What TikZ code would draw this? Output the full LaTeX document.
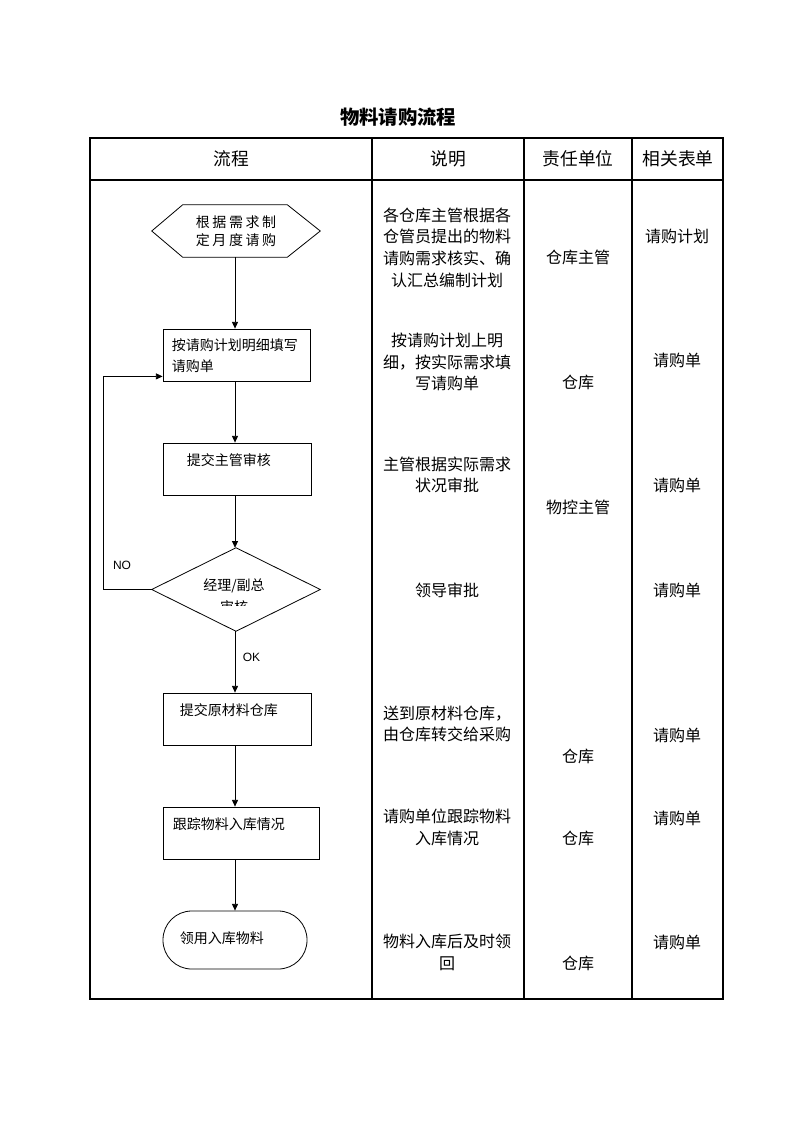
\documentclass[tikz,border=0pt]{standalone}
\usepackage{fontspec}
\setmainfont{Noto Sans CJK SC}
\newfontfamily\hexfont[LetterSpace=18]{Noto Sans CJK SC}
\newfontfamily\latinfont{Liberation Sans}
\usetikzlibrary{calc,arrows.meta}
\begin{document}
\begin{tikzpicture}[x=0.75pt,y=-0.75pt,
  tbl/.style={line width=0.9pt},
  flowline/.style={line width=0.6pt},
  arr/.style={line width=0.6pt,-{Triangle[width=4.5pt,length=5pt]}},
  boxnode/.style={draw,line width=0.6pt,minimum height=39pt,inner sep=0pt},
  hidden/.style={inner sep=0pt},
  flowtext/.style={inner sep=0pt,anchor=west,align=left,font=\fontsize{10.5}{15.75}\selectfont},
  celltext/.style={inner sep=0pt,align=center,font=\fontsize{12}{16.2}\selectfont},
  headtext/.style={inner sep=0pt,font=\fontsize{13.3}{16}\selectfont},
  latinlabel/.style={inner sep=0pt,font=\latinfont\fontsize{9}{11}\selectfont}
]
\useasboundingbox (0,0) rectangle (794,1123);

% title
\node[inner sep=0pt,font=\bfseries\fontsize{14.5}{18}\selectfont] (title) at (398,117) {物料请购流程};

% table frame
\draw[tbl] (90,138) rectangle (723,999);
\draw[tbl] (90,180) -- (723,180);
\foreach \x in {372,524,632} \draw[tbl] (\x,138) -- (\x,999);

% header
\node[headtext] (h1) at (231,159) {流程};
\node[headtext] (h2) at (448,159) {说明};
\node[headtext] (h3) at (578,159) {责任单位};
\node[headtext] (h4) at (678,159) {相关表单};

% flow chart
\coordinate (spine) at (235,0);
\coordinate (loopx) at (103,0);

\node[hidden,minimum width=126pt,minimum height=39pt,align=center,
      font={\hexfont\fontsize{10.5}{13.5}\selectfont}] (hex) at (236,231) {根据需求制\\定月度请购};
\draw[flowline] (hex.west) -- ($(hex.north west)+(31,0)$) -- ($(hex.north east)+(-33,0)$)
  -- (hex.east) -- ($(hex.south east)+(-33,0)$) -- ($(hex.south west)+(31,0)$) -- cycle;

\node[boxnode,minimum width=110.25pt] (b1) at (236.5,355) {};
\node[flowtext] (b1t) at ($(b1.west)+(9,0.5)$) {按请购计划明细填写\\请购单};

\node[boxnode,minimum width=111pt] (b2) at (237,469) {};
\node[flowtext] (b2t) at ($(b2.west)+(24,-9)$) {提交主管审核};

\node[hidden,minimum width=126pt,minimum height=62.25pt] (dec) at (236,589.5) {};
\draw[flowline] (dec.west) -- (dec.north) -- (dec.east) -- (dec.south) -- cycle;
\begin{scope}
  \clip (150,540) rectangle (322,605);
  \node[inner sep=0pt,align=center,font=\fontsize{10.5}{16.5}\selectfont] (dect) at (234,596) {经理/副总\\审核};
\end{scope}

\node[boxnode,minimum width=111pt] (b3) at (237,719) {};
\node[flowtext] (b3t) at ($(b3.west)+(17,-9)$) {提交原材料仓库};

\node[boxnode,minimum width=117pt] (b4) at (241,833) {};
\node[flowtext] (b4t) at ($(b4.west)+(10,-9)$) {跟踪物料入库情况};

\node[draw,line width=0.6pt,inner sep=0pt,minimum width=108pt,minimum height=43.5pt,
      rounded corners=21.5pt] (term) at (235,940) {};
\node[flowtext] (termt) at ($(term.west)+(17,-2)$) {领用入库物料};

% connectors
\draw[arr] (spine |- hex.south) -- (spine |- b1.north);
\draw[arr] (spine |- b1.south) -- (spine |- b2.north);
\draw[arr] (spine |- b2.south) -- (spine |- dec.north);
\draw[arr] (spine |- dec.south) -- (spine |- b3.north);
\draw[arr] (spine |- b3.south) -- (spine |- b4.north);
\draw[arr] (spine |- b4.south) -- (spine |- term.north);
\draw[arr] (dec.west) -- (dec.west -| loopx) |- ($(b1.south west)+(0,-5)$);

\node[latinlabel] (no) at (122,565) {NO};
\node[latinlabel] (ok) at (251.5,657) {OK};

% description column
\node[celltext] (d1) at (447,247.5) {各仓库主管根据各\\仓管员提出的物料\\请购需求核实、确\\认汇总编制计划};
\node[celltext] (d2) at (447,362) {按请购计划上明\\细，按实际需求填\\写请购单};
\node[celltext] (d3) at (447,475) {主管根据实际需求\\状况审批};
\node[celltext] (d4) at (447,590) {领导审批};
\node[celltext] (d5) at (447,724) {送到原材料仓库，\\由仓库转交给采购};
\node[celltext] (d6) at (447,827.5) {请购单位跟踪物料\\入库情况};
\node[celltext] (d7) at (447,952.5) {物料入库后及时领\\回};

% responsibility column
\node[celltext] (r1) at (578,257) {仓库主管};
\node[celltext] (r2) at (578,382) {仓库};
\node[celltext] (r3) at (578,507) {物控主管};
\node[celltext] (r4) at (578,756) {仓库};
\node[celltext] (r5) at (578,838) {仓库};
\node[celltext] (r6) at (578,963) {仓库};

% forms column
\node[celltext] (f1) at (677,236) {请购计划};
\node[celltext] (f2) at (677,360) {请购单};
\node[celltext] (f3) at (677,485) {请购单};
\node[celltext] (f4) at (677,590) {请购单};
\node[celltext] (f5) at (677,735) {请购单};
\node[celltext] (f6) at (677,818) {请购单};
\node[celltext] (f7) at (677,942) {请购单};
\end{tikzpicture}
\end{document}
